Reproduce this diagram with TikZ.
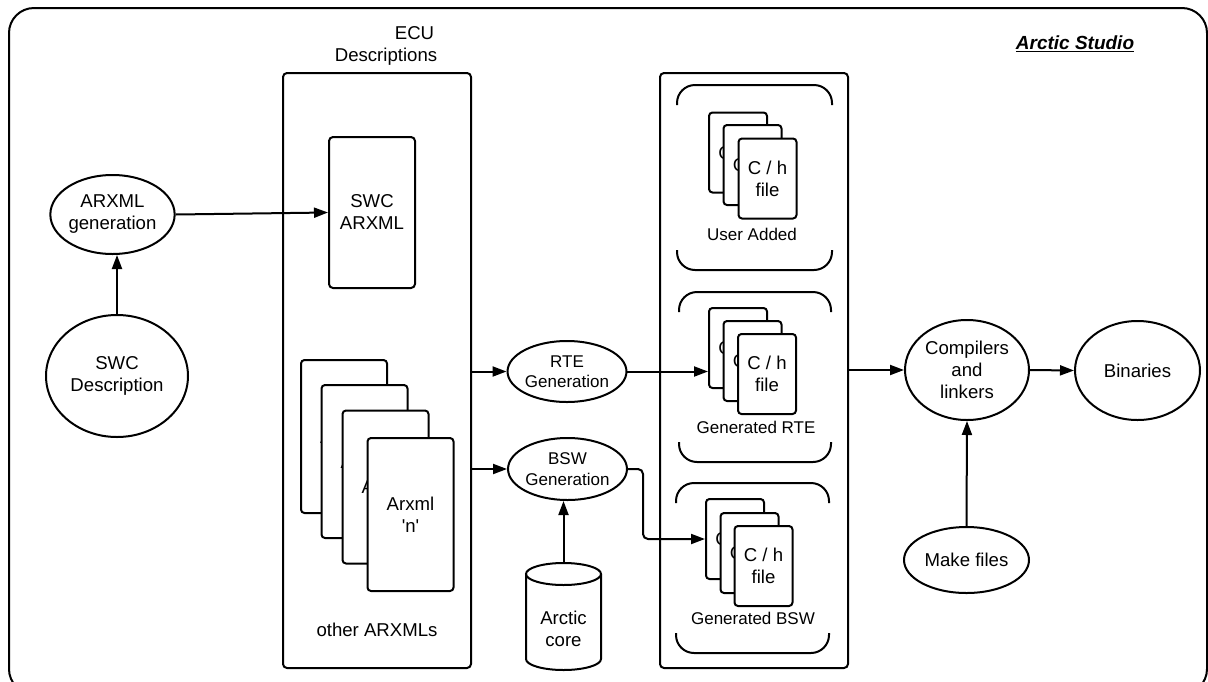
\documentclass[tikz,border=0pt]{standalone}
\usepackage{fontspec}
\setmainfont{Liberation Sans}
\usetikzlibrary{arrows.meta,shapes.geometric,calc}

% top and bottom halves of an open rounded group frame: left, right, top, bottom
\newcommand\groupframe[4]{%
  \draw[rounded corners=18pt] (#1,#3+20) -- (#1,#3) -- (#2,#3) -- (#2,#3+20);
  \draw[rounded corners=18pt] (#1,#4-20) -- (#1,#4) -- (#2,#4) -- (#2,#4-20);
}

\begin{document}
\begin{tikzpicture}[x=1pt,y=-1pt,line width=2pt,
  big/.style={font=\fontsize{18.6}{22}\selectfont, align=center},
  small/.style={font=\fontsize{17}{20.5}\selectfont, align=center},
  oval/.style={ellipse, draw, inner sep=0pt, big},
  smalloval/.style={ellipse, draw, inner sep=0pt, small},
  panel/.style={draw, rounded corners=4pt, inner sep=0pt},
  sheet/.style={draw, fill=white, rounded corners=3.5pt, inner sep=0pt, big},
  arxmlsheet/.style={sheet, minimum width=86pt, minimum height=153pt},
  csheet/.style={sheet, minimum width=58pt, minimum height=80pt},
  arr/.style={-{Triangle[length=14pt,width=10pt]}},
]
\clip (0,0) rectangle (1208,681);
\fill[white] (0,0) rectangle (1208,681);

% outer frame
\draw[rounded corners=25pt] (9,8) rectangle (1207,694);
\node[font=\fontsize{19}{23}\selectfont\bfseries\itshape] (studio) at (1075,44) {\underline{Arctic Studio}};

% left column
\node[oval, minimum width=113pt, minimum height=79pt] (argen) at (112.5,214.5) {ARXML\\generation};
\node[oval, minimum width=142pt, minimum height=122pt] (swcdesc) at (117,376) {SWC\\Description};

% ECU descriptions panel
\node[panel, minimum width=188pt, minimum height=595pt] (ecu) at (377,370.5) {};
\node[big] (ecutitle) at (414.5,33) {ECU};
\node[big] (ecusub) at (386,57) {Descriptions};
\node[panel, big, minimum width=86pt, minimum height=151pt] (swcarxml) at (372,212.5) {SWC\\ARXML};
\node[arxmlsheet] (ax1) at (344,436.5) {Arxml};
\node[arxmlsheet] (ax2) at (364.5,461.5) {Arxml};
\node[arxmlsheet] (ax3) at (385.5,487) {Arxml};
\node[arxmlsheet] (axn) at (410.5,514.5) {Arxml\\\textquotesingle n\textquotesingle};
\node[big] (otherlbl) at (377,630) {other ARXMLs};

% generators
\node[smalloval, minimum width=114pt, minimum height=61pt] (rte) at (567,371.5) {RTE\\Generation};
\node[smalloval, minimum width=115pt, minimum height=62pt] (bsw) at (567.5,469) {BSW\\Generation};

% Arctic core database
\node[minimum width=75pt, minimum height=107pt, inner sep=0pt] (core) at (563.5,616.5) {};
\draw[fill=white] (526,574) -- (526,659) arc[start angle=180, end angle=360, x radius=37.5pt, y radius=11pt] -- (601,574);
\draw (563.5,574) ellipse [x radius=37.5pt, y radius=11pt];
\node[big] (corelbl) at (563.5,629) {Arctic\\core};

% source files panel
\node[panel, minimum width=188pt, minimum height=595pt] (src) at (754,370.5) {};
\groupframe{677}{832}{85}{270}
\groupframe{679}{831}{292}{462}
\groupframe{676}{829}{483}{653}

\node[csheet] (ua1) at (738,152.5) {C / h};
\node[csheet] (ua2) at (752.5,165) {C / h};
\node[csheet] (ua3) at (767.5,178.5) {C / h\\file};
\node[small] (ualbl) at (752,234) {User Added};

\node[csheet] (gr1) at (738,348) {C / h};
\node[csheet] (gr2) at (752.5,361) {C / h};
\node[csheet] (gr3) at (767,374) {C / h\\file};
\node[small] (grlbl) at (756,427) {Generated RTE};

\node[csheet] (gb1) at (735,539) {C / h};
\node[csheet] (gb2) at (749.5,553) {C / h};
\node[csheet] (gb3) at (763.5,566) {C / h\\file};
\node[small] (gblbl) at (753,618) {Generated BSW};

% build
\node[oval, minimum width=124pt, minimum height=100pt] (comp) at (967,370) {Compilers\\and\\linkers};
\node[oval, minimum width=125pt, minimum height=99pt] (bin) at (1137.5,370.5) {Binaries};
\node[oval, minimum width=125pt, minimum height=66pt] (make) at (966.5,560) {Make files};

% connectors
\draw[arr] (swcdesc.north) -- (swcdesc.north |- argen.south);
\draw[arr] (argen.east) -- (swcarxml.west);
\draw[arr] (ecu.east |- rte.west) -- (rte.west);
\draw[arr] (ecu.east |- bsw.west) -- (bsw.west);
\draw[arr] (rte.east) -- (rte.east -| gr1.west);
\coordinate (bswbend) at (643,500);
\draw[arr, rounded corners=5pt] (bsw.east) -- (bsw.east -| bswbend) -- (bswbend |- gb1.west) -- (gb1.west);
\draw[arr] (core.north) -- (core.north |- bsw.south);
\draw[arr] (src.east |- comp.west) -- (comp.west);
\draw[arr] (comp.east) -- (bin.west);
\draw[arr] (make.north) -- (comp.south);
\end{tikzpicture}
\end{document}
